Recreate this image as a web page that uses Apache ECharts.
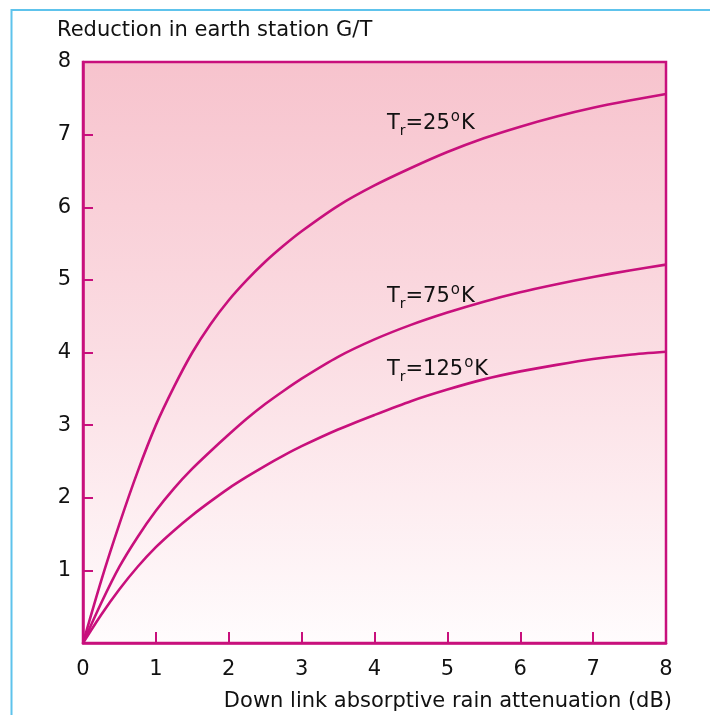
<!DOCTYPE html>
<html>
<head>
<meta charset="utf-8">
<script src="https://cdn.jsdelivr.net/npm/echarts@6/dist/echarts.min.js"></script>
<style>html,body{margin:0;padding:0;background:#fff}#c{width:710px;height:715px}</style>
</head>
<body>
<div id="c"></div>
<script>
const xValues = [0, 0.25, 0.5, 0.75, 1, 1.25, 1.5, 1.75, 2, 2.25, 2.5, 2.75, 3, 3.5, 4, 4.5, 5, 5.5, 6, 6.5, 7, 7.5, 8];
const tr25  = [0, 0.86, 1.64, 2.36, 3.00, 3.53, 4.00, 4.39, 4.72, 5.00, 5.25, 5.47, 5.67, 6.02, 6.30, 6.54, 6.76, 6.95, 7.11, 7.25, 7.37, 7.47, 7.56];
const tr75  = [0, 0.55, 1.05, 1.46, 1.82, 2.13, 2.40, 2.64, 2.87, 3.09, 3.29, 3.47, 3.64, 3.94, 4.18, 4.38, 4.55, 4.70, 4.83, 4.94, 5.04, 5.13, 5.21];
const tr125 = [0, 0.39, 0.74, 1.05, 1.32, 1.55, 1.76, 1.95, 2.13, 2.29, 2.44, 2.58, 2.71, 2.94, 3.14, 3.33, 3.49, 3.63, 3.74, 3.83, 3.91, 3.97, 4.01];
const seriesNames = ['25', '75', '125'];
const labelAnchorX = [4.17, 4.17, 4.17];
const labelAnchorY = [7.15, 4.77, 3.77];
const xTickLabels = ['0', '1', '2', '3', '4', '5', '6', '7', '8'];
const yTickLabels = ['', '1', '2', '3', '4', '5', '6', '7', '8'];
const yTitle = 'Reduction in earth station G/T';
const xTitle = 'Down link absorptive rain attenuation (dB)';

const LINE = '#c8107c';
const FONT = '"DejaVu Sans", "Liberation Sans", Arial, sans-serif';
const FS = 21;
const allData = [tr25, tr75, tr125];

const rich = {
  a: { fontSize: FS, fontFamily: FONT, color: '#111', lineHeight: 30, verticalAlign: 'middle' },
  sub: { fontSize: 14, fontFamily: FONT, color: '#111', lineHeight: 14, verticalAlign: 'bottom' },
  sup: { fontSize: 15, fontFamily: FONT, color: '#111', lineHeight: 15, verticalAlign: 'top', padding: [1, 1, 0, 1] }
};

const series = allData.map((vals, i) => ({
  type: 'line',
  name: seriesNames[i],
  data: xValues.map((x, j) => [x, vals[j]]),
  smooth: 0.25,
  showSymbol: false,
  lineStyle: { color: LINE, width: 2.6 },
  z: 3,
  markPoint: {
    symbol: 'circle',
    symbolSize: 0,
    silent: true,
    data: [{
      coord: [labelAnchorX[i], labelAnchorY[i]],
      label: {
        show: true,
        position: 'right',
        distance: 0,
        formatter: '{a|T}{sub|r}{a|=' + seriesNames[i] + '}{sup|o}{a|K}',
        rich: rich
      }
    }]
  }
}));

const chart = echarts.init(document.getElementById('c'), null, { renderer: 'canvas' });
chart.setOption({
  animation: false,
  backgroundColor: '#fff',
  title: [
    { text: yTitle, left: 57, top: 20, padding: 0,
      textStyle: { fontSize: FS, fontWeight: 'normal', fontFamily: FONT, color: '#111' } },
    { text: xTitle, right: 38, top: 691, padding: 0,
      textStyle: { fontSize: FS, fontWeight: 'normal', fontFamily: FONT, color: '#111' } }
  ],
  graphic: [{
    type: 'rect', silent: true, z: -10,
    shape: { x: 11.5, y: 10, width: 900, height: 900 },
    style: { fill: 'none', stroke: '#5ec3ec', lineWidth: 2 }
  }],
  grid: {
    left: 83, right: 44, top: 62, bottom: 72,
    show: true,
    borderColor: LINE,
    borderWidth: 2.5,
    backgroundColor: {
      type: 'linear', x: 0, y: 0, x2: 0, y2: 1,
      colorStops: [
        { offset: 0, color: '#f7c3cd' },
        { offset: 0.5, color: '#fbdde3' },
        { offset: 1, color: '#fffcfd' }
      ]
    }
  },
  xAxis: {
    type: 'value', min: 0, max: 8, interval: 1,
    axisLine: { show: true, lineStyle: { color: LINE, width: 2.5 } },
    axisTick: { show: true, inside: true, length: 11, lineStyle: { color: LINE, width: 2 } },
    splitLine: { show: false },
    axisLabel: {
      margin: 16, fontSize: FS, fontFamily: FONT, color: '#111',
      formatter: v => xTickLabels[Math.round(v)]
    }
  },
  yAxis: {
    type: 'value', min: 0, max: 8, interval: 1,
    axisLine: { show: true, lineStyle: { color: LINE, width: 2.5 } },
    axisTick: { show: true, inside: true, length: 10, lineStyle: { color: LINE, width: 2 } },
    splitLine: { show: false },
    axisLabel: {
      margin: 12, fontSize: FS, fontFamily: FONT, color: '#111',
      formatter: v => yTickLabels[Math.round(v)]
    }
  },
  series: series
});
</script>
</body>
</html>
